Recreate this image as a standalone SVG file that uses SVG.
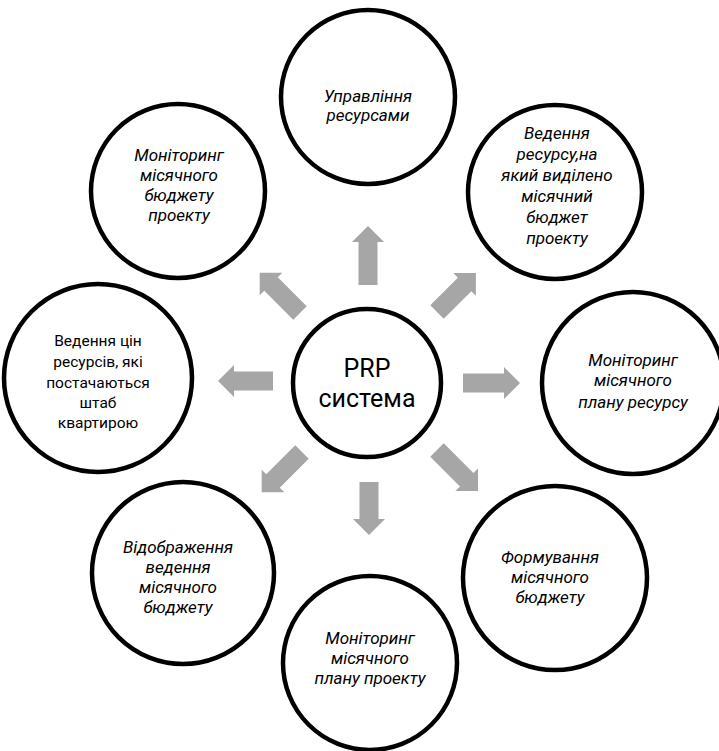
<svg xmlns="http://www.w3.org/2000/svg" width="719" height="751" viewBox="0 0 719 751">
<style>
.node circle{fill:#fff;stroke:#000;stroke-width:4.5}
.t{font-family:Roboto,"Liberation Sans",sans-serif;font-size:15.5px;fill:#000;text-anchor:middle}
.i{font-style:italic;font-size:17px}
.c{font-size:25px}
.arr{fill:#a6a6a6}
</style>
<rect width="719" height="751" fill="#fff"/>
<g id="connectors" class="arr">
<path transform="translate(368,285) rotate(-90)" d="M0,-9.5 H43 V-16 L59,0 L43,16 V9.5 H0 Z"/>
<path transform="translate(463,383)" d="M0,-9.5 H41 V-16 L57,0 L41,16 V9.5 H0 Z"/>
<path transform="translate(273,381) rotate(180)" d="M0,-9.5 H39 V-16 L55,0 L39,16 V9.5 H0 Z"/>
<path transform="translate(369,482) rotate(90)" d="M0,-9.5 H37 V-16 L53,0 L37,16 V9.5 H0 Z"/>
<path transform="translate(300,313) rotate(-135)" d="M0,-9.5 H41 V-16 L57,0 L41,16 V9.5 H0 Z"/>
<path transform="translate(437,312) rotate(-45)" d="M0,-9.5 H39 V-16 L55,0 L39,16 V9.5 H0 Z"/>
<path transform="translate(302,452) rotate(135)" d="M0,-9.5 H41 V-16 L57,0 L41,16 V9.5 H0 Z"/>
<path transform="translate(437,450) rotate(45)" d="M0,-9.5 H42 V-16 L58,0 L42,16 V9.5 H0 Z"/>
</g>
<g id="center" class="node">
<circle cx="367" cy="383" r="74"/>
<text class="t c" x="367" y="377">PRP</text>
<text class="t c" x="367" y="407">система</text>
</g>
<g id="top" class="node">
<circle cx="368" cy="97" r="87"/>
<text class="t i" x="368" y="102">Управління</text>
<text class="t i" x="368" y="121">ресурсами</text>
</g>
<g id="top-left" class="node">
<circle cx="178" cy="191" r="87"/>
<text class="t i" x="179" y="161">Моніторинг</text>
<text class="t i" x="179" y="181">місячного</text>
<text class="t i" x="179" y="201">бюджету</text>
<text class="t i" x="179" y="221">проекту</text>
</g>
<g id="top-right" class="node">
<circle cx="555" cy="192" r="87"/>
<text class="t i" x="557" y="139">Ведення</text>
<text class="t i" x="557" y="160">ресурсу,на</text>
<text class="t i" x="557" y="181">який виділено</text>
<text class="t i" x="557" y="202">місячний</text>
<text class="t i" x="557" y="223">бюджет</text>
<text class="t i" x="557" y="244">проекту</text>
</g>
<g id="left" class="node">
<circle cx="98" cy="378" r="94"/>
<text class="t" x="98" y="346">Ведення цін</text>
<text class="t" x="98" y="367">ресурсів, які</text>
<text class="t" x="98" y="388">постачаються</text>
<text class="t" x="98" y="408">штаб</text>
<text class="t" x="98" y="428">квартирою</text>
</g>
<g id="right" class="node">
<circle cx="633" cy="383" r="91"/>
<text class="t i" x="633" y="366">Моніторинг</text>
<text class="t i" x="633" y="386">місячного</text>
<text class="t i" x="633" y="408">плану ресурсу</text>
</g>
<g id="bottom-left" class="node">
<circle cx="183" cy="573" r="91"/>
<text class="t i" x="178" y="553">Відображення</text>
<text class="t i" x="178" y="573">ведення</text>
<text class="t i" x="178" y="593">місячного</text>
<text class="t i" x="178" y="613">бюджету</text>
</g>
<g id="bottom-right" class="node">
<circle cx="555" cy="578" r="92"/>
<text class="t i" x="550" y="563">Формування</text>
<text class="t i" x="550" y="583">місячного</text>
<text class="t i" x="550" y="603">бюджету</text>
</g>
<g id="bottom" class="node">
<circle cx="370" cy="663" r="87"/>
<text class="t i" x="370" y="644">Моніторинг</text>
<text class="t i" x="370" y="664">місячного</text>
<text class="t i" x="370" y="684">плану проекту</text>
</g>
</svg>
